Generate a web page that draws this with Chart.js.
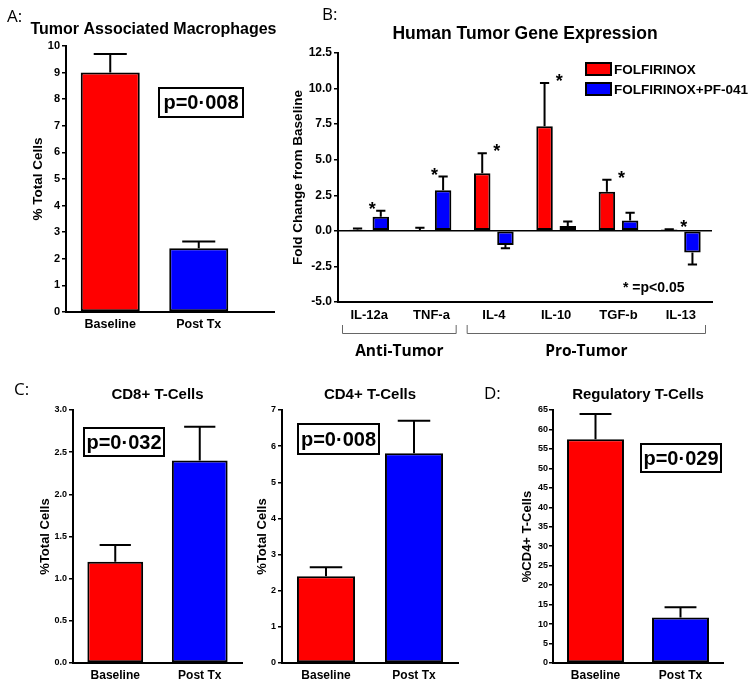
<!DOCTYPE html>
<html>
<head>
<meta charset="utf-8">
<script src="https://cdn.jsdelivr.net/npm/chart.js@4.4.1/dist/chart.umd.min.js"></script>
<style>
  body { margin: 0; background: #fff; }
  #page { position: relative; width: 754px; height: 686px; overflow: hidden; font-family: "Liberation Sans", Arial, sans-serif; }
  canvas { position: absolute; }
  .letter { position: absolute; font-family: "Open Sans", sans-serif; font-size: 17px; line-height: 1; }
  .pbox { position: absolute; box-sizing: border-box; border: 2px solid #000; font-weight: bold; font-size: 20px;
          display: flex; align-items: center; justify-content: center; }
  .note { position: absolute; font-weight: bold; font-size: 14px; line-height: 14px; white-space: nowrap; }
</style>
</head>
<body>
<div id="page">
  <canvas id="chartA" width="290" height="340" style="left:0;top:0"></canvas>
  <canvas id="chartB" width="464" height="370" style="left:290px;top:0"></canvas>
  <canvas id="chartC1" width="250" height="316" style="left:0;top:370px"></canvas>
  <canvas id="chartC2" width="220" height="316" style="left:250px;top:370px"></canvas>
  <canvas id="chartD" width="284" height="316" style="left:470px;top:370px"></canvas>

  <div class="letter" style="left:7px;top:7px">A:</div>
  <div class="letter" style="left:322px;top:5px">B:</div>
  <div class="letter" style="left:14px;top:380px">C:</div>
  <div class="letter" style="left:484px;top:384px">D:</div>

  <div class="pbox" style="left:158px;top:87px;width:86px;height:31px">p=0·008</div>
  <div class="pbox" style="left:83px;top:427px;width:82px;height:30px">p=0·032</div>
  <div class="pbox" style="left:297px;top:423px;width:83px;height:32px">p=0·008</div>
  <div class="pbox" style="left:640px;top:443px;width:82px;height:30px">p=0·029</div>

  <div class="note" style="left:623px;top:280px">* =p&lt;0.05</div>
</div>

<script>
// ---- data ----
const timeLabels = ['Baseline', 'Post Tx'];

// A: tumor associated macrophages (% total cells, mean and SEM)
const macroValues = [9.0, 2.4];
const macroErrors = [0.7, 0.25];
const macroTicks = [0, 1, 2, 3, 4, 5, 6, 7, 8, 9, 10];

// B: gene expression, fold change from baseline
const geneLabels = ['IL-12a', 'TNF-a', 'IL-4', 'IL-10', 'TGF-b', 'IL-13'];
const folfValues = [0.08, 0.03, 4.05, 7.35, 2.75, 0.1];
const folfErrors = [0.09, 0.19, 1.4, 3.05, 0.85, 0.02];
const pfValues = [1.0, 2.85, -1.0, 0.35, 0.72, -1.52];
const pfErrors = [0.42, 0.97, 0.22, 0.3, 0.55, 0.85];
const geneSignificant = [true, true, true, true, true, true];
const geneTicks = [-5, -2.5, 0, 2.5, 5, 7.5, 10, 12.5];
const geneGroupNames = ['Anti-Tumor', 'Pro-Tumor'];
const geneGroupStart = [0, 2];
const geneGroupEnd = [1, 5];

// C: CD8+ and CD4+ T-cells (% total cells)
const cd8Values = [1.2, 2.4];
const cd8Errors = [0.2, 0.4];
const cd8Ticks = [0, 0.5, 1.0, 1.5, 2.0, 2.5, 3.0];
const cd4Values = [2.4, 5.8];
const cd4Errors = [0.25, 0.9];
const cd4Ticks = [0, 1, 2, 3, 4, 5, 6, 7];

// D: regulatory T-cells (% CD4+ T-cells)
const tregValues = [57.5, 11.7];
const tregErrors = [6.5, 2.6];
const tregTicks = [0, 5, 10, 15, 20, 25, 30, 35, 40, 45, 50, 55, 60, 65];

const RED = '#FF0000';
const BLUE = '#0000FF';
const FONT = '"Liberation Sans", Arial, sans-serif';

Chart.defaults.font.family = FONT;
Chart.defaults.color = '#000';
Chart.defaults.animation = false;

// one-sided SEM bars (up for positive bars, down for negative ones)
const errorBars = {
  id: 'errorBars',
  afterDatasetsDraw(chart) {
    const ctx = chart.ctx;
    const y = chart.scales.y;
    chart.data.datasets.forEach((ds, i) => {
      const meta = chart.getDatasetMeta(i);
      meta.data.forEach((bar, j) => {
        const v = ds.data[j];
        const e = ds.errors[j];
        const end = y.getPixelForValue(v < 0 ? v - e : v + e);
        const half = bar.width * 0.28;
        ctx.save();
        ctx.strokeStyle = '#000';
        ctx.lineWidth = 2;
        ctx.beginPath();
        ctx.moveTo(bar.x, bar.y);
        ctx.lineTo(bar.x, end);
        ctx.moveTo(bar.x - half, end);
        ctx.lineTo(bar.x + half, end);
        ctx.stroke();
        ctx.restore();
      });
    });
  }
};

// x axis line that runs on past the last category (panel A)
const axisOverhang = {
  id: 'axisOverhang',
  afterDraw(chart, args, opts) {
    if (!opts.length) return;
    const ctx = chart.ctx;
    const yy = chart.scales.x.top;
    ctx.save();
    ctx.strokeStyle = '#000';
    ctx.lineWidth = 2;
    ctx.beginPath();
    ctx.moveTo(chart.chartArea.right - 1, yy);
    ctx.lineTo(chart.chartArea.right + opts.length, yy);
    ctx.stroke();
    ctx.restore();
  }
};

// legend with boxes inside the plot (panel B)
const boxLegend = {
  id: 'boxLegend',
  afterDraw(chart, args, opts) {
    if (!opts.show) return;
    const ctx = chart.ctx;
    let x = chart.chartArea.right - 126;
    let y = chart.chartArea.top + 10;
    ctx.save();
    ctx.font = 'bold 13.5px ' + FONT;
    ctx.textBaseline = 'middle';
    chart.data.datasets.forEach(ds => {
      ctx.fillStyle = ds.backgroundColor;
      ctx.fillRect(x, y, 25, 12);
      ctx.strokeStyle = '#000';
      ctx.lineWidth = 2;
      ctx.strokeRect(x, y, 25, 12);
      ctx.fillStyle = '#000';
      ctx.fillText(ds.label, x + 28, y + 7);
      y += 20;
    });
    ctx.restore();
  }
};

// significance stars and group brackets (panel B)
const geneMarks = {
  id: 'geneMarks',
  afterDraw(chart, args, opts) {
    if (!opts.show) return;
    const ctx = chart.ctx;
    const xs = chart.scales.x;
    const ys = chart.scales.y;
    ctx.save();
    ctx.fillStyle = '#000';
    ctx.font = 'bold 18px ' + FONT;
    ctx.textAlign = 'center';
    ctx.textBaseline = 'alphabetic';
    geneLabels.forEach((g, k) => {
      if (!geneSignificant[k]) return;
      let top = 0;
      chart.data.datasets.forEach(ds => {
        const v = ds.data[k];
        if (v >= 0) top = Math.max(top, v + ds.errors[k]);
      });
      ctx.fillText('*', xs.getPixelForValue(k) + 3, ys.getPixelForValue(top) - 6 + 10);
    });

    const w = xs.getPixelForValue(1) - xs.getPixelForValue(0);
    const base = chart.chartArea.bottom;
    ctx.strokeStyle = '#666';
    ctx.lineWidth = 1;
    ctx.font = 'bold 15.5px "Open Sans", sans-serif';
    ctx.textBaseline = 'middle';
    geneGroupNames.forEach((name, i) => {
      const x0 = xs.getPixelForValue(geneGroupStart[i]) - w / 2 + 4;
      const x1 = xs.getPixelForValue(geneGroupEnd[i]) + w / 2 - 6;
      ctx.beginPath();
      ctx.moveTo(x0 + 0.5, base + 23);
      ctx.lineTo(x0 + 0.5, base + 31.5);
      ctx.lineTo(x1 - 0.5, base + 31.5);
      ctx.lineTo(x1 - 0.5, base + 23);
      ctx.stroke();
      ctx.fillText(name, (x0 + x1) / 2, base + 50);
    });
    ctx.restore();
  }
};

function fixedTicks(list) {
  return s => { s.ticks = list.map(v => ({ value: v })); };
}

function barChart(id, cfg) {
  return new Chart(document.getElementById(id), {
    type: 'bar',
    data: {
      labels: cfg.labels,
      datasets: cfg.datasets
    },
    options: {
      responsive: false,
      animation: false,
      layout: { padding: cfg.padding },
      plugins: {
        legend: { display: false },
        tooltip: { enabled: false },
        title: {
          display: true,
          text: cfg.title,
          fullSize: !!cfg.rightGap,
          font: { size: cfg.titleSize, weight: 'bold' },
          padding: cfg.titlePad
        },
        axisOverhang: { length: cfg.overhang || 0 },
        boxLegend: { show: !!cfg.legend },
        geneMarks: { show: !!cfg.marks }
      },
      scales: {
        x: {
          grid: { display: false, drawTicks: false },
          border: { color: '#000', width: 2 },
          ticks: { font: { size: cfg.xFont, weight: 'bold' }, padding: cfg.xPad },
          afterFit: s => { s.height = cfg.xHeight; }
        },
        y: {
          min: cfg.ticks[0],
          max: cfg.ticks[cfg.ticks.length - 1],
          afterBuildTicks: fixedTicks(cfg.ticks),
          grid: {
            drawOnChartArea: !!cfg.zeroLine,
            color: c => (cfg.zeroLine && c.tick && c.tick.value === 0) ? '#000' : 'rgba(0,0,0,0)',
            lineWidth: 1.5,
            tickColor: '#000',
            tickWidth: 1.5,
            tickLength: 4
          },
          border: { color: '#000', width: 2 },
          ticks: {
            font: { size: cfg.yFont, weight: 'bold' },
            padding: cfg.yPad,
            callback: cfg.yFormat
          },
          title: {
            display: true,
            text: cfg.yTitle,
            font: { size: cfg.yTitleSize, weight: 'bold' },
            padding: { top: 0, bottom: 0 }
          },
          afterFit: s => { s.width = cfg.yWidth; }
        },
        // empty strip to the right of the plot (room for the axis run-on and a wide title)
        gap: {
          type: 'linear',
          position: 'right',
          display: !!cfg.rightGap,
          grid: { display: false },
          border: { display: false },
          ticks: { display: false },
          afterFit: s => { s.width = cfg.rightGap || 0; }
        }
      }
    },
    plugins: [errorBars, axisOverhang, boxLegend, geneMarks]
  });
}

function singleSet(values, errors, pct) {
  return [{
    data: values,
    errors: errors,
    backgroundColor: [RED, BLUE],
    borderColor: '#000',
    borderWidth: 2,
    borderSkipped: false,
    barPercentage: pct,
    categoryPercentage: 1
  }];
}

// A
barChart('chartA', {
  labels: timeLabels,
  datasets: singleSet(macroValues, macroErrors, 0.667),
  title: 'Tumor Associated Macrophages', titleSize: 16, titlePad: { top: 20.4, bottom: 6.4 },
  padding: { left: 30, right: 13, top: 0, bottom: 0 },
  ticks: macroTicks, yFont: 11, yPad: 2, yWidth: 36,
  yTitle: '% Total Cells', yTitleSize: 13.5,
  xFont: 12.5, xPad: 5, xHeight: 28,
  overhang: 32, rightGap: 34
});

// B
barChart('chartB', {
  labels: geneLabels,
  datasets: [
    { label: 'FOLFIRINOX', data: folfValues, errors: folfErrors, backgroundColor: RED,
      borderColor: '#000', borderWidth: 2, borderSkipped: false, barPercentage: 0.71, categoryPercentage: 0.745 },
    { label: 'FOLFIRINOX+PF-041', data: pfValues, errors: pfErrors, backgroundColor: BLUE,
      borderColor: '#000', borderWidth: 2, borderSkipped: false, barPercentage: 0.71, categoryPercentage: 0.745 }
  ],
  title: 'Human Tumor Gene Expression', titleSize: 17.5, titlePad: { top: 23.5, bottom: 8.5 },
  padding: { left: 0, right: 42, top: 0, bottom: 0 },
  ticks: geneTicks, yFont: 12, yPad: 2, yWidth: 48, yFormat: v => Number(v).toFixed(1),
  yTitle: 'Fold Change from Baseline', yTitleSize: 13.5,
  xFont: 13, xPad: 6, xHeight: 68,
  zeroLine: true, legend: true, marks: true
});

// C (CD8+)
barChart('chartC1', {
  labels: timeLabels,
  datasets: singleSet(cd8Values, cd8Errors, 0.66),
  title: 'CD8+ T-Cells', titleSize: 15, titlePad: { top: 16, bottom: 6 },
  padding: { left: 38, right: 8, top: 0, bottom: 0 },
  ticks: cd8Ticks, yFont: 9, yPad: 2, yWidth: 35, yFormat: v => Number(v).toFixed(1),
  yTitle: '%Total Cells', yTitleSize: 13,
  xFont: 12, xPad: 5, xHeight: 23
});

// C (CD4+)
barChart('chartC2', {
  labels: timeLabels,
  datasets: singleSet(cd4Values, cd4Errors, 0.66),
  title: 'CD4+ T-Cells', titleSize: 15, titlePad: { top: 16, bottom: 6 },
  padding: { left: 5, right: 12, top: 0, bottom: 0 },
  ticks: cd4Ticks, yFont: 9, yPad: 2, yWidth: 27,
  yTitle: '%Total Cells', yTitleSize: 13,
  xFont: 12, xPad: 5, xHeight: 23
});

// D
barChart('chartD', {
  labels: timeLabels,
  datasets: singleSet(tregValues, tregErrors, 0.67),
  title: 'Regulatory T-Cells', titleSize: 15, titlePad: { top: 16, bottom: 6 },
  padding: { left: 50, right: 31, top: 0, bottom: 0 },
  ticks: tregTicks, yFont: 9, yPad: 1, yWidth: 33,
  yTitle: '%CD4+ T-Cells', yTitleSize: 13,
  xFont: 12, xPad: 5, xHeight: 23
});
</script>
</body>
</html>
